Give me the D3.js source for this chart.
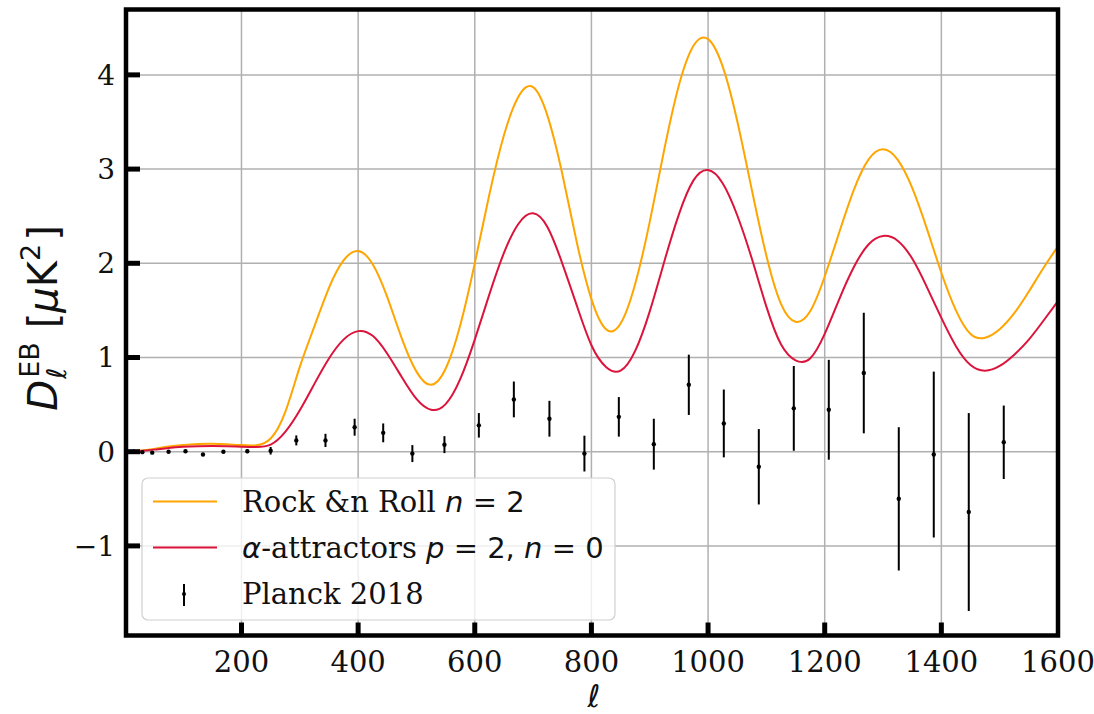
<!DOCTYPE html>
<html><head><meta charset="utf-8">
<script src="https://cdn.jsdelivr.net/npm/d3@7/dist/d3.min.js"></script>
<style>body{margin:0;background:#fff}</style>
</head><body><svg id="c" width="1094" height="714"></svg>
<script>
// ---- data ----
const ellModel = [2,25,50,75,100,125,150,175,200,225,250,275,300,325,350,375,400,425,450,475,500,525,550,575,600,625,650,675,700,725,750,775,800,825,850,875,900,925,950,975,1000,1025,1050,1075,1100,1125,1150,1175,1200,1225,1250,1275,1300,1325,1350,1375,1400,1425,1450,1475,1500,1525,1550,1575,1600];
const rockRoll = [0.0,0.01,0.03,0.055,0.072,0.082,0.085,0.08,0.07,0.068,0.14,0.42,0.90,1.33,1.74,2.03,2.13,1.99,1.64,1.20,0.85,0.71,0.88,1.34,2.00,2.73,3.36,3.77,3.87,3.56,2.95,2.22,1.62,1.30,1.36,1.78,2.44,3.21,3.89,4.31,4.38,4.09,3.51,2.78,2.08,1.57,1.38,1.49,1.86,2.33,2.78,3.10,3.21,3.10,2.80,2.37,1.90,1.50,1.25,1.21,1.30,1.47,1.70,1.95,2.18];
const alphaAttr = [0.0,0.008,0.022,0.04,0.052,0.058,0.06,0.058,0.053,0.05,0.075,0.21,0.44,0.72,0.99,1.19,1.28,1.23,1.04,0.79,0.56,0.445,0.505,0.77,1.19,1.67,2.11,2.42,2.53,2.38,2.00,1.55,1.13,0.90,0.86,1.07,1.49,2.02,2.52,2.88,2.99,2.85,2.51,2.05,1.54,1.14,0.97,0.99,1.25,1.62,1.96,2.20,2.29,2.24,2.05,1.75,1.42,1.12,0.92,0.86,0.91,1.03,1.19,1.39,1.60];
const planckEll = [15,30,47,75,104,134,169,210,250,294,344,394,443,493,548,607,667,728,788,847,907,967,1027,1087,1147,1207,1267,1327,1387,1447,1507];
const planckVal = [0.0,-0.005,-0.01,0.0,0.005,-0.03,0.0,0.005,0.01,0.12,0.12,0.26,0.2,-0.02,0.075,0.28,0.555,0.35,-0.02,0.37,0.08,0.71,0.30,-0.16,0.46,0.445,0.835,-0.50,-0.03,-0.64,0.10];
const planckErr = [0.02,0.02,0.012,0.012,0.015,0.015,0.015,0.02,0.04,0.053,0.07,0.09,0.1,0.09,0.09,0.13,0.19,0.19,0.19,0.21,0.27,0.32,0.36,0.40,0.45,0.53,0.64,0.76,0.88,1.05,0.39];
const xTicks = [200,400,600,800,1000,1200,1400,1600];
const yTicks = [-1,0,1,2,3,4];
const yTickLabels = ["\u22121","0","1","2","3","4"];

// ---- layout ----
const L = 126, R = 1058, T = 9.5, B = 635.5;
const x = d3.scaleLinear().domain([2,1600]).range([L,R]);
const y = d3.scaleLinear().domain([-1.951,4.694]).range([B,T]);
const svg = d3.select("#c");
const serif = "'DejaVu Serif', serif";
const sans = "'DejaVu Sans', sans-serif";

svg.append("defs").append("clipPath").attr("id","clip")
  .append("rect").attr("x",L).attr("y",T).attr("width",R-L).attr("height",B-T);

// grid
const g = svg.append("g");
g.selectAll(".gx").data(xTicks).join("line")
  .attr("x1",d=>x(d)).attr("x2",d=>x(d)).attr("y1",T).attr("y2",B)
  .attr("stroke","#b0b0b0").attr("stroke-width",1.5);
g.selectAll(".gy").data(yTicks).join("line")
  .attr("x1",L).attr("x2",R).attr("y1",d=>y(d)).attr("y2",d=>y(d))
  .attr("stroke","#b0b0b0").attr("stroke-width",1.5);

// curves
const line = (arr)=>d3.line().x((d,i)=>x(ellModel[i])).y(d=>y(d)).curve(d3.curveNatural)(arr);
const cg = svg.append("g").attr("clip-path","url(#clip)");
cg.append("path").attr("d",line(rockRoll)).attr("fill","none").attr("stroke","#ffa500").attr("stroke-width",2);
cg.append("path").attr("d",line(alphaAttr)).attr("fill","none").attr("stroke","#dc143c").attr("stroke-width",2);

// planck error bars
const pts = planckEll.map((e,i)=>({e, v:planckVal[i], s:planckErr[i]}));
const eg = svg.append("g").attr("clip-path","url(#clip)");
eg.selectAll("line").data(pts).join("line")
  .attr("x1",d=>x(d.e)).attr("x2",d=>x(d.e))
  .attr("y1",d=>y(d.v-d.s)).attr("y2",d=>y(d.v+d.s))
  .attr("stroke","#000").attr("stroke-width",2);
eg.selectAll("circle").data(pts).join("circle")
  .attr("cx",d=>x(d.e)).attr("cy",d=>y(d.v)).attr("r",2.2).attr("fill","#000");

// legend
const lg = svg.append("g");
lg.append("rect").attr("x",142).attr("y",478).attr("width",473).attr("height",142).attr("rx",6)
  .attr("fill","rgba(255,255,255,0.8)").attr("stroke","#d0d0d0").attr("stroke-width",1.2);
lg.append("line").attr("x1",153).attr("x2",217).attr("y1",501.5).attr("y2",501.5).attr("stroke","#ffa500").attr("stroke-width",2);
lg.append("line").attr("x1",153).attr("x2",217).attr("y1",547.5).attr("y2",547.5).attr("stroke","#dc143c").attr("stroke-width",2);
lg.append("line").attr("x1",184).attr("x2",184).attr("y1",584).attr("y2",606).attr("stroke","#000").attr("stroke-width",2);
lg.append("circle").attr("cx",184).attr("cy",594).attr("r",2).attr("fill","#000");
const fs = 29;
const t1 = lg.append("text").attr("x",242).attr("y",512).attr("font-size",fs).attr("fill","#111");
t1.append("tspan").attr("font-family",serif).text("Rock &n Roll ");
t1.append("tspan").attr("font-family",sans).attr("font-style","italic").text("n");
t1.append("tspan").attr("font-family",sans).text(" = 2");
const t2 = lg.append("text").attr("x",242).attr("y",558).attr("font-size",fs).attr("fill","#111");
t2.append("tspan").attr("font-family",sans).attr("font-style","italic").text("\u03b1");
t2.append("tspan").attr("font-family",serif).text("-attractors ");
t2.append("tspan").attr("font-family",sans).attr("font-style","italic").text("p");
t2.append("tspan").attr("font-family",sans).text(" = 2, ");
t2.append("tspan").attr("font-family",sans).attr("font-style","italic").text("n");
t2.append("tspan").attr("font-family",sans).text(" = 0");
lg.append("text").attr("x",242).attr("y",604).attr("font-size",fs).attr("font-family",serif).attr("fill","#111").text("Planck 2018");

// frame
svg.append("rect").attr("x",L).attr("y",T).attr("width",R-L).attr("height",B-T)
  .attr("fill","none").attr("stroke","#000").attr("stroke-width",4.5);

// ticks (inward, left + bottom)
svg.selectAll(".tx").data(xTicks.filter(d=>d<1600)).join("line")
  .attr("x1",d=>x(d)).attr("x2",d=>x(d)).attr("y1",B).attr("y2",B-13)
  .attr("stroke","#000").attr("stroke-width",5);
svg.selectAll(".ty").data(yTicks).join("line")
  .attr("x1",L).attr("x2",L+14).attr("y1",d=>y(d)).attr("y2",d=>y(d))
  .attr("stroke","#000").attr("stroke-width",5);

// tick labels
svg.selectAll(".lx").data(xTicks).join("text")
  .attr("x",d=>x(d)).attr("y",672).attr("text-anchor","middle")
  .attr("font-family",serif).attr("font-size",29).attr("fill","#111").text(d=>d);
svg.selectAll(".ly").data(yTicks).join("text")
  .attr("x",115).attr("y",d=>y(d)+10).attr("text-anchor","end")
  .attr("font-family",serif).attr("font-size",28).attr("fill","#111").text((d,i)=>yTickLabels[i]);

// axis labels
svg.append("text").attr("x",594).attr("y",707).attr("text-anchor","middle")
  .attr("font-family",sans).attr("font-style","italic").attr("font-size",31).attr("fill","#111").text("\u2113");
const yl = svg.append("text").attr("transform","translate(57,318) rotate(-90)").attr("text-anchor","middle")
  .attr("font-family",sans).attr("font-size",40).attr("fill","#111");
yl.append("tspan").attr("font-style","italic").text("D");
yl.append("tspan").attr("font-style","italic").attr("font-size",27).attr("dy",9).attr("dx",1).text("\u2113");
yl.append("tspan").attr("font-size",27).attr("dy",-27).attr("dx",-10).text("EB");
yl.append("tspan").attr("dy",18).attr("dx",14).text("[");
yl.append("tspan").attr("font-style","italic").text("\u03bc");
yl.append("tspan").text("K");
yl.append("tspan").attr("font-size",27).attr("dy",-17).text("2");
yl.append("tspan").attr("dy",17).attr("dx",3).text("]");
</script></body></html>
